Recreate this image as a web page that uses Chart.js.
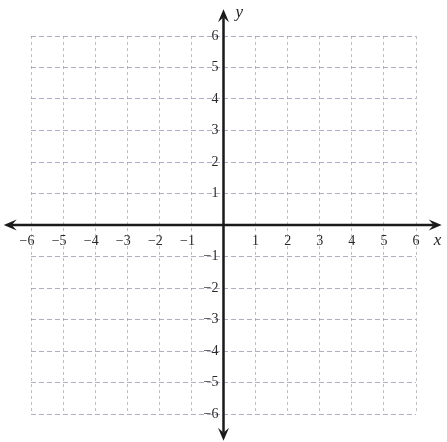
<!DOCTYPE html>
<html>
<head>
<meta charset="utf-8">
<script src="https://cdn.jsdelivr.net/npm/chart.js@4/dist/chart.umd.min.js"></script>
<style>
  html, body { margin: 0; padding: 0; background: #fff; }
  #plot { display: block; }
</style>
</head>
<body>
<canvas id="plot" width="447" height="442"></canvas>
<script>
// grid range and tick labels
const xRange = [-6, 6];
const yRange = [-6, 6];
const xTicks = [-6, -5, -4, -3, -2, -1, 1, 2, 3, 4, 5, 6];
const yTicks = [-6, -5, -4, -3, -2, -1, 1, 2, 3, 4, 5, 6];
// how far the arrows reach past the grid (in axis units)
const xAxisEnds = [-6.85, 6.8];
const yAxisEnds = [-6.85, 6.85];

function tickText(v) {
  return v < 0 ? '\u2212' + Math.abs(v) : String(v);
}

// arrowhead with notched back
function arrowHead(ctx, tx, ty, dx, dy) {
  const len = 13, half = 5.5, notch = 8;
  const px = -dy, py = dx;
  ctx.beginPath();
  ctx.moveTo(tx, ty);
  ctx.lineTo(tx - dx * len + px * half, ty - dy * len + py * half);
  ctx.lineTo(tx - dx * notch, ty - dy * notch);
  ctx.lineTo(tx - dx * len - px * half, ty - dy * len - py * half);
  ctx.closePath();
  ctx.fill();
}

const axesPlugin = {
  id: 'axesPlugin',
  afterDraw(chart) {
    const ctx = chart.ctx;
    const xs = chart.scales.x, ys = chart.scales.y;
    const x0 = xs.getPixelForValue(0), y0 = ys.getPixelForValue(0);
    const xl = xs.getPixelForValue(xAxisEnds[0]), xr = xs.getPixelForValue(xAxisEnds[1]);
    const yt = ys.getPixelForValue(yAxisEnds[1]), yb = ys.getPixelForValue(yAxisEnds[0]);

    ctx.save();
    ctx.strokeStyle = '#1a1a1a';
    ctx.fillStyle = '#1a1a1a';
    ctx.lineWidth = 2.5;
    ctx.beginPath();
    ctx.moveTo(xl + 8, y0); ctx.lineTo(xr - 8, y0);
    ctx.moveTo(x0, yt + 8); ctx.lineTo(x0, yb - 8);
    ctx.stroke();
    arrowHead(ctx, xl, y0, -1, 0);
    arrowHead(ctx, xr, y0, 1, 0);
    arrowHead(ctx, x0, yt, 0, -1);
    arrowHead(ctx, x0, yb, 0, 1);

    // tick labels
    ctx.fillStyle = '#2a2a2a';
    ctx.font = '14px "Liberation Serif", "DejaVu Serif", serif';
    ctx.textBaseline = 'middle';
    xTicks.forEach(v => {
      const px = xs.getPixelForValue(v);
      const digitW = ctx.measureText(String(Math.abs(v))).width;
      ctx.textAlign = 'right';
      ctx.fillText(tickText(v), px + digitW / 2, y0 + 16);
    });
    ctx.textAlign = 'right';
    yTicks.forEach(v => {
      ctx.fillText(tickText(v), x0 - 5, ys.getPixelForValue(v));
    });

    // axis names
    ctx.fillStyle = '#222';
    ctx.font = 'italic 17px "Liberation Serif", "DejaVu Serif", serif';
    ctx.textAlign = 'left';
    ctx.fillText('x', xs.getPixelForValue(6.55), y0 + 16);
    ctx.fillText('y', x0 + 12, ys.getPixelForValue(6.75));
    ctx.restore();
  }
};

new Chart(document.getElementById('plot'), {
  type: 'scatter',
  data: { datasets: [{ data: [] }] },
  options: {
    responsive: false,
    animation: false,
    events: [],
    layout: { padding: { left: 31, right: 31, top: 36, bottom: 28 } },
    plugins: { legend: { display: false }, tooltip: { enabled: false } },
    scales: {
      x: {
        type: 'linear',
        min: xRange[0], max: xRange[1],
        ticks: { stepSize: 1, display: false },
        grid: { color: 'rgba(150,150,150,0.6)', lineWidth: 1, drawTicks: false },
        border: { display: false, dash: [3, 3] }
      },
      y: {
        type: 'linear',
        min: yRange[0], max: yRange[1],
        ticks: { stepSize: 1, display: false },
        grid: { color: 'rgba(130,130,170,0.65)', lineWidth: 1, drawTicks: false },
        border: { display: false, dash: [5, 3] }
      }
    }
  },
  plugins: [axesPlugin]
});
</script>
</body>
</html>
